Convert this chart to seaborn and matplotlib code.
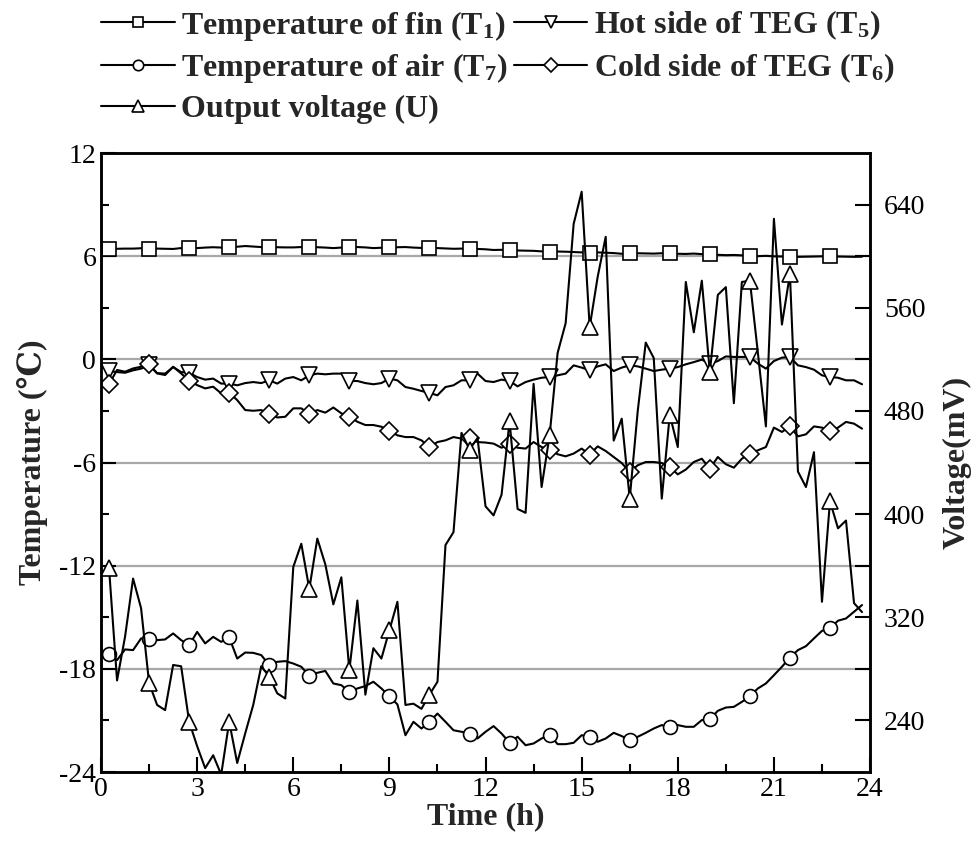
import pandas as pd
import seaborn as sns
import matplotlib.pyplot as plt
from matplotlib.ticker import MultipleLocator, FixedLocator

# sampling times (h), one reading every 15 min
time_h = [0.25, 0.5, 0.75, 1.0, 1.25, 1.5, 1.75, 2.0, 2.25, 2.5, 2.75, 3.0,
          3.25, 3.5, 3.75, 4.0, 4.25, 4.5, 4.75, 5.0, 5.25, 5.5, 5.75, 6.0,
          6.25, 6.5, 6.75, 7.0, 7.25, 7.5, 7.75, 8.0, 8.25, 8.5, 8.75, 9.0,
          9.25, 9.5, 9.75, 10.0, 10.25, 10.5, 10.75, 11.0, 11.25, 11.5, 11.75, 12.0,
          12.25, 12.5, 12.75, 13.0, 13.25, 13.5, 13.75, 14.0, 14.25, 14.5, 14.75, 15.0,
          15.25, 15.5, 15.75, 16.0, 16.25, 16.5, 16.75, 17.0, 17.25, 17.5, 17.75, 18.0,
          18.25, 18.5, 18.75, 19.0, 19.25, 19.5, 19.75, 20.0, 20.25, 20.5, 20.75, 21.0,
          21.25, 21.5, 21.75, 22.0, 22.25, 22.5, 22.75, 23.0, 23.25, 23.5, 23.75]

# temperature of fin T1 (C)
t_fin = [6.40, 6.43, 6.44, 6.44, 6.46, 6.42, 6.44, 6.43, 6.42, 6.47, 6.45,
         6.47, 6.50, 6.52, 6.50, 6.51, 6.55, 6.59, 6.56, 6.53, 6.51,
         6.52, 6.51, 6.51, 6.53, 6.55, 6.52, 6.50, 6.47, 6.50, 6.51,
         6.53, 6.51, 6.47, 6.49, 6.51, 6.52, 6.53, 6.50, 6.48, 6.45,
         6.47, 6.45, 6.43, 6.44, 6.40, 6.42, 6.40, 6.36, 6.37, 6.36,
         6.33, 6.32, 6.31, 6.28, 6.26, 6.27, 6.26, 6.24, 6.22, 6.20,
         6.22, 6.20, 6.18, 6.14, 6.16, 6.17, 6.16, 6.15, 6.17, 6.16,
         6.14, 6.13, 6.15, 6.12, 6.10, 6.08, 6.06, 6.07, 6.05, 6.03,
         6.00, 6.02, 5.99, 5.98, 5.97, 5.96, 5.97, 5.98, 5.99, 6.00,
         5.98, 5.97, 5.96, 5.97]

# hot side of TEG T5 (C)
t_hot = [-0.68, -0.74, -0.78, -0.64, -0.54, -0.35, -0.80, -0.83, -0.45, -0.74, -0.78,
         -1.03, -1.18, -1.12, -1.41, -1.41, -1.51, -1.38, -1.32, -1.38, -1.22,
         -1.41, -1.12, -1.03, -1.22, -0.93, -0.83, -0.87, -0.83, -0.83, -1.26,
         -1.26, -1.38, -1.45, -1.38, -1.12, -1.22, -1.61, -1.71, -1.84, -1.96,
         -2.09, -1.61, -1.51, -1.22, -1.22, -0.83, -1.26, -1.32, -1.18, -1.26,
         -1.57, -1.32, -1.18, -1.07, -1.03, -0.93, -0.83, -0.35, -0.48, -0.64,
         -0.41, -0.29, -0.68, -0.48, -0.35, -0.41, -0.54, -0.68, -0.60, -0.54,
         -0.45, -0.29, -0.16, -0.02, -0.25, -0.10, 0.17, 0.14, 0.14, 0.14,
         -0.25, -0.54, -0.10, 0.10, 0.14, -0.35, -0.45, -0.60, -0.93, -1.03,
         -1.07, -1.22, -1.22, -1.45]

# cold side of TEG T6 (C)
t_cold = [-1.44, -0.62, -0.72, -0.53, -0.43, -0.27, -0.82, -0.91, -0.43, -0.82, -1.24,
          -1.50, -1.69, -1.59, -1.98, -1.94, -2.37, -2.95, -2.99, -2.95, -3.18,
          -3.38, -3.34, -2.85, -2.85, -3.18, -2.95, -3.10, -2.80, -3.14, -3.34,
          -3.63, -3.82, -3.82, -3.92, -4.15, -4.42, -4.52, -4.52, -4.71, -5.10,
          -4.81, -4.71, -4.52, -4.61, -4.57, -4.81, -4.84, -4.90, -5.14, -4.94,
          -5.14, -5.19, -4.81, -5.10, -5.25, -5.52, -5.64, -5.48, -5.19, -5.54,
          -5.06, -5.33, -5.68, -6.03, -6.55, -6.16, -5.97, -5.97, -6.03, -6.26,
          -6.69, -6.41, -5.97, -5.78, -6.36, -5.68, -6.10, -6.30, -5.78, -5.48,
          -5.29, -5.10, -3.97, -4.22, -3.90, -4.48, -4.36, -3.90, -3.97, -4.17,
          -3.97, -3.64, -3.74, -4.03]

# temperature of air T7 (C)
t_air = [-17.15, -17.49, -16.87, -16.91, -16.23, -16.27, -16.33, -16.29, -15.94, -16.33, -16.62,
         -15.85, -16.52, -16.14, -16.43, -16.17, -17.40, -17.05, -17.07, -17.20, -17.78,
         -17.59, -17.55, -17.69, -17.88, -18.40, -18.23, -18.12, -18.85, -18.95, -19.34,
         -19.14, -19.00, -18.75, -19.14, -19.59, -20.07, -21.86, -21.08, -21.47, -21.08,
         -20.60, -21.08, -21.57, -21.66, -21.76, -22.05, -21.66, -21.33, -21.76, -22.30,
         -21.95, -22.44, -22.34, -22.05, -21.82, -22.38, -22.38, -22.30, -21.86, -21.95,
         -22.24, -22.05, -21.72, -21.91, -22.15, -21.95, -21.72, -21.47, -21.27, -21.41,
         -21.27, -21.37, -21.37, -20.98, -20.94, -20.44, -20.25, -20.21, -19.92, -19.59,
         -19.14, -18.85, -18.37, -17.88, -17.34, -16.91, -16.68, -16.23, -15.79, -15.65,
         -15.20, -15.07, -14.68, -14.29]

# output voltage U (mV)
voltage = [358, 271, 305, 350, 327, 269, 252, 248, 283, 282, 239,
           220, 203, 213, 198, 239, 207, 230, 252, 282, 274,
           261, 257, 359, 377, 342, 381, 361, 330, 351, 279,
           333, 260, 296, 288, 310, 332, 252, 253, 249, 260,
           270, 376, 386, 463, 450, 459, 406, 399, 415, 472,
           404, 401, 501, 421, 461, 525, 548, 625, 650, 545,
           584, 615, 457, 474, 412, 480, 533, 521, 412, 477,
           452, 580, 541, 581, 510, 570, 576, 486, 580, 581,
           525, 468, 629, 547, 586, 433, 421, 448, 332, 410,
           389, 395, 331, 324]

df = pd.DataFrame({"time": time_h, "T1": t_fin, "T5": t_hot, "T6": t_cold,
                   "T7": t_air, "U": voltage})

sns.set_theme(style="ticks")
plt.rcParams['font.family'] = ['Liberation Serif', 'DejaVu Serif', 'DejaVu Sans']
plt.rcParams['mathtext.fontset'] = 'custom'
plt.rcParams['mathtext.rm'] = 'Liberation Serif:bold'
plt.rcParams['mathtext.bf'] = 'Liberation Serif:bold'
plt.rcParams['mathtext.it'] = 'Liberation Serif:bold'
plt.rcParams['axes.unicode_minus'] = False
plt.rcParams['axes.edgecolor'] = 'black'
plt.rcParams['xtick.color'] = 'black'
plt.rcParams['ytick.color'] = 'black'

fig = plt.figure(figsize=(9.79, 8.43), dpi=100)
ax = fig.add_axes([0.1032, 0.0842, 0.7855, 0.7343])
ax2 = ax.twinx()

for g in [-18, -12, -6, 0, 6]:
    ax.axhline(g, color='#a8a8a8', lw=1.6, zorder=0)

common = dict(color='black', lw=1.5, markevery=5, markerfacecolor='white',
              markeredgecolor='black', markeredgewidth=1.2)

sns.lineplot(data=df, x="time", y="T1", ax=ax, marker='s', markersize=10,
             label=r"Temperature of fin (T$_1$)", **common)
sns.lineplot(data=df, x="time", y="T5", ax=ax, marker='v', markersize=11,
             label=r"Hot side of TEG (T$_5$)", **common)
sns.lineplot(data=df, x="time", y="T7", ax=ax, marker='o', markersize=10,
             label=r"Temperature of air (T$_7$)", **common)
sns.lineplot(data=df, x="time", y="T6", ax=ax, marker='D', markersize=9,
             label=r"Cold side of TEG (T$_6$)", **common)
sns.lineplot(data=df, x="time", y="U", ax=ax2, marker='^', markersize=11,
             label="Output voltage (U)", **common)

h1, l1 = ax.get_legend_handles_labels()
h2, l2 = ax2.get_legend_handles_labels()
ax.get_legend().remove()
ax2.get_legend().remove()
handles = {lab: h for h, lab in zip(h1 + h2, l1 + l2)}
order = [l1[0], l1[2], l2[0], l1[1], l1[3]]
fig.legend([handles[k] for k in order], order, ncol=2, loc='upper left',
           bbox_to_anchor=(0.074, 1.024), frameon=False,
           prop=dict(weight='bold', size=23), handlelength=2.3,
           columnspacing=0.2, labelspacing=0.28, handletextpad=0.2,
           markerscale=0.75)

ax.set_xlim(0, 24)
ax.set_ylim(-24, 12)
ax2.set_ylim(200, 680)
ax.xaxis.set_major_locator(MultipleLocator(3))
ax.xaxis.set_minor_locator(MultipleLocator(1.5))
ax.yaxis.set_major_locator(MultipleLocator(6))
ax.yaxis.set_minor_locator(MultipleLocator(3))
ax2.yaxis.set_major_locator(FixedLocator([240, 320, 400, 480, 560, 640]))
ax2.yaxis.set_minor_locator(FixedLocator([280, 360, 440, 520, 600]))

ax.tick_params(which='major', direction='in', length=11, width=1.5, labelsize=20,
               top=False, right=False)
ax.tick_params(which='minor', direction='in', length=6, width=1.5,
               top=False, right=False)
ax2.tick_params(which='major', direction='in', length=11, width=1.5, labelsize=20, pad=10)
ax2.tick_params(which='minor', direction='in', length=11, width=1.5)

for a in (ax, ax2):
    for s in a.spines.values():
        s.set_linewidth(1.8)
        s.set_color('black')

ax.set_xlabel("Time (h)", fontsize=23, fontweight='bold', labelpad=0)
ax.set_ylabel("Temperature (℃)", fontsize=23, fontweight='bold', labelpad=8)
ax2.set_ylabel("Voltage(mV)", fontsize=23, fontweight='bold', labelpad=12)

fig.savefig("out.png", dpi=100)
